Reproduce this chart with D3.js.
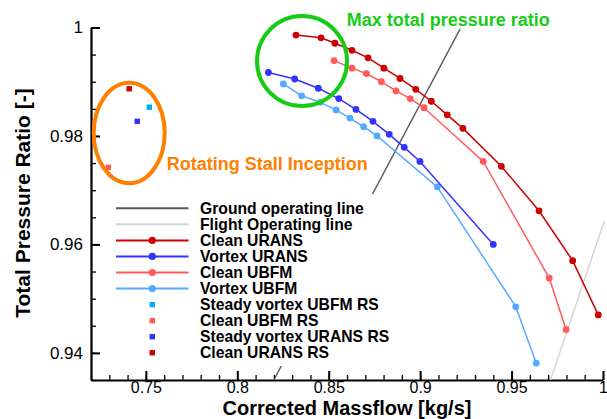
<!DOCTYPE html>
<html>
<head>
<meta charset="utf-8">
<script src="https://cdn.jsdelivr.net/npm/d3@7"></script>
<style>
  html, body { margin: 0; padding: 0; background: #fff; }
  svg { display: block; font-family: "Liberation Sans", Arial, Helvetica, sans-serif; }
</style>
</head>
<body>
<svg id="chart" width="607" height="419"></svg>
<script>
// Axis ticks
const xTickValues = [0.75, 0.8, 0.85, 0.9, 0.95, 1];
const xTickLabels = ["0.75", "0.8", "0.85", "0.9", "0.95", "1"];
const yTickValues = [0.94, 0.96, 0.98, 1];
const yTickLabels = ["0.94", "0.96", "0.98", "1"];

// Compressor characteristics: corrected massflow [kg/s] vs total pressure ratio [-]
const cleanUransMassflow = [0.8321, 0.8458, 0.8534, 0.8627, 0.8715, 0.8802, 0.8890, 0.8976, 0.9061, 0.9148, 0.9234, 0.9444, 0.9650, 0.9834, 0.9974];
const cleanUransRatio    = [0.9986, 0.9981, 0.9971, 0.9958, 0.9944, 0.9925, 0.9906, 0.9886, 0.9864, 0.9839, 0.9814, 0.9744, 0.9662, 0.9570, 0.9470];

const vortexUransMassflow = [0.8170, 0.8314, 0.8443, 0.8555, 0.8649, 0.8742, 0.8831, 0.8913, 0.8999, 0.9400];
const vortexUransRatio    = [0.9917, 0.9905, 0.9888, 0.9869, 0.9849, 0.9827, 0.9803, 0.9779, 0.9753, 0.9600];

const cleanUbfmMassflow = [0.8529, 0.8627, 0.8706, 0.8788, 0.8868, 0.8946, 0.9021, 0.9345, 0.9706, 0.9798];
const cleanUbfmRatio    = [0.9939, 0.9925, 0.9915, 0.9900, 0.9883, 0.9869, 0.9852, 0.9753, 0.9538, 0.9443];

const vortexUbfmMassflow = [0.8252, 0.8352, 0.8454, 0.8540, 0.8616, 0.8691, 0.8764, 0.9094, 0.9523, 0.9635];
const vortexUbfmRatio    = [0.9896, 0.9874, 0.9862, 0.9848, 0.9833, 0.9817, 0.9800, 0.9706, 0.9485, 0.9381];

// Rotating stall inception points
const rsNames    = ["Steady vortex UBFM RS", "Clean UBFM RS", "Steady vortex URANS RS", "Clean URANS RS"];
const rsMassflow = [0.7519, 0.7295, 0.7453, 0.7409];
const rsRatio    = [0.9853, 0.9742, 0.9827, 0.9887];

// Operating lines (end points)
const groundLineMassflow = [0.8200, 0.9218];
const groundLineRatio    = [0.9350, 0.9997];
const flightLineMassflow = [0.9713, 1.0007];
const flightLineRatio    = [0.9350, 0.9643];

// Annotation anchors
const maxRatioCenter = [0.8354, 0.9938];
const stallCenter    = [0.7409, 0.98055];

const colors = {
  ground: "#5a5a5a",
  flight: "#d4d4d4",
  cleanUrans: "#cc0000",
  vortexUrans: "#3333ff",
  cleanUbfm: "#ff5a5a",
  vortexUbfm: "#55aaff",
  vortexUbfmRS: "#00aaff",
  cleanUbfmRS: "#ff5a5a",
  vortexUransRS: "#3333ff",
  cleanUransRS: "#cc0000",
  green: "#16cc16",
  orange: "#ff8000"
};

const svg = d3.select("#chart");
const x = d3.scaleLinear().domain([0.72, 1.0]).range([91, 603]);
const y = d3.scaleLinear().domain([0.935, 1.0]).range([380, 27.5]);

// Minor ticks (inward)
const xMinor = d3.range(0.72, 1.0001, 0.01).map(v => +v.toFixed(3));
const yMinor = d3.range(0.935, 1.0001, 0.005).map(v => +v.toFixed(3));

svg.append("g").attr("transform", `translate(0,${y.range()[0]})`)
  .call(d3.axisBottom(x).tickValues(xMinor).tickSize(-5).tickFormat(""))
  .call(g => g.select(".domain").remove())
  .selectAll("line").attr("stroke", "#000").attr("stroke-width", 1.3);

svg.append("g").attr("transform", `translate(${x.range()[0]},0)`)
  .call(d3.axisLeft(y).tickValues(yMinor).tickSize(-5).tickFormat(""))
  .call(g => g.select(".domain").remove())
  .selectAll("line").attr("stroke", "#000").attr("stroke-width", 1.3);

// Major ticks with labels
const xAxis = svg.append("g").attr("transform", `translate(0,${y.range()[0]})`)
  .call(d3.axisBottom(x).tickValues(xTickValues).tickSize(-9).tickSizeOuter(0).tickPadding(1.5)
    .tickFormat((d, i) => xTickLabels[i]));
xAxis.select(".domain").attr("stroke", "#000").attr("stroke-width", 2.2);
xAxis.selectAll("line").attr("stroke", "#000").attr("stroke-width", 2);
xAxis.selectAll("text").attr("font-size", 16).attr("fill", "#000")
  .attr("font-family", "'Liberation Sans', Arial, sans-serif");

const yAxis = svg.append("g").attr("transform", `translate(${x.range()[0]},0)`)
  .call(d3.axisLeft(y).tickValues(yTickValues).tickSize(-9).tickSizeOuter(0).tickPadding(8)
    .tickFormat((d, i) => yTickLabels[i]));
yAxis.select(".domain").attr("stroke", "#000").attr("stroke-width", 2.2);
yAxis.selectAll("line").attr("stroke", "#000").attr("stroke-width", 2);
yAxis.selectAll("text").attr("font-size", 17).attr("fill", "#000")
  .attr("font-family", "'Liberation Sans', Arial, sans-serif");

// Axis titles
svg.append("text").attr("x", 347).attr("y", 414.5).attr("text-anchor", "middle")
  .attr("font-size", 20).attr("font-weight", "bold").text("Corrected Massflow [kg/s]");
svg.append("text").attr("transform", "translate(30,203) rotate(-90)").attr("text-anchor", "middle")
  .attr("font-size", 21).attr("font-weight", "bold").text("Total Pressure Ratio [-]");

const line = d3.line().x(d => x(d[0])).y(d => y(d[1]));
const zip = (a, b) => a.map((v, i) => [v, b[i]]);

// Operating lines
svg.append("path").datum(zip(groundLineMassflow, groundLineRatio)).attr("d", line)
  .attr("fill", "none").attr("stroke", colors.ground).attr("stroke-width", 1.4);
svg.append("path").datum(zip(flightLineMassflow, flightLineRatio)).attr("d", line)
  .attr("fill", "none").attr("stroke", colors.flight).attr("stroke-width", 1.4);

// Speed lines
const series = [
  { name: "Clean URANS", color: colors.cleanUrans, data: zip(cleanUransMassflow, cleanUransRatio) },
  { name: "Vortex URANS", color: colors.vortexUrans, data: zip(vortexUransMassflow, vortexUransRatio) },
  { name: "Clean UBFM", color: colors.cleanUbfm, data: zip(cleanUbfmMassflow, cleanUbfmRatio) },
  { name: "Vortex UBFM", color: colors.vortexUbfm, data: zip(vortexUbfmMassflow, vortexUbfmRatio) }
];
const drawOrder = [3, 2, 1, 0];
drawOrder.forEach(k => {
  const s = series[k];
  const g = svg.append("g");
  g.append("path").datum(s.data).attr("d", line).attr("fill", "none")
    .attr("stroke", s.color).attr("stroke-width", 1.5);
  g.selectAll("circle").data(s.data).join("circle")
    .attr("cx", d => x(d[0])).attr("cy", d => y(d[1])).attr("r", 3.4).attr("fill", s.color);
});

// Rotating stall points
const rsColors = [colors.vortexUbfmRS, colors.cleanUbfmRS, colors.vortexUransRS, colors.cleanUransRS];
svg.append("g").selectAll("rect").data(rsMassflow.map((m, i) => [m, rsRatio[i], rsColors[i]])).join("rect")
  .attr("x", d => x(d[0]) - 2.7).attr("y", d => y(d[1]) - 2.7)
  .attr("width", 5.4).attr("height", 5.4).attr("fill", d => d[2]);

// Legend (white backing hides the operating line behind it)
svg.append("rect").attr("x", 110).attr("y", 194).attr("width", 292).attr("height", 172).attr("fill", "#fff");
const legendItems = [
  { label: "Ground operating line", color: colors.ground, type: "line", width: 2 },
  { label: "Flight Operating line", color: colors.flight, type: "line", width: 2 },
  { label: "Clean URANS", color: colors.cleanUrans, type: "linedot", width: 2 },
  { label: "Vortex URANS", color: colors.vortexUrans, type: "linedot", width: 2 },
  { label: "Clean UBFM", color: colors.cleanUbfm, type: "linedot", width: 2 },
  { label: "Vortex UBFM", color: colors.vortexUbfm, type: "linedot", width: 2 },
  { label: rsNames[0], color: colors.vortexUbfmRS, type: "square" },
  { label: rsNames[1], color: colors.cleanUbfmRS, type: "square" },
  { label: rsNames[2], color: colors.vortexUransRS, type: "square" },
  { label: rsNames[3], color: colors.cleanUransRS, type: "square" }
];
const legend = svg.append("g");
legendItems.forEach((it, i) => {
  const cy = 208.3 + i * 16.05;
  if (it.type !== "square") {
    legend.append("line").attr("x1", 116).attr("x2", 188.5).attr("y1", cy).attr("y2", cy)
      .attr("stroke", it.color).attr("stroke-width", it.width);
  }
  if (it.type === "linedot") {
    legend.append("circle").attr("cx", 152.3).attr("cy", cy).attr("r", 3.6).attr("fill", it.color);
  }
  if (it.type === "square") {
    legend.append("rect").attr("x", 152.3 - 2.7).attr("y", cy - 2.7).attr("width", 5.4).attr("height", 5.4)
      .attr("fill", it.color);
  }
  legend.append("text").attr("x", 200).attr("y", cy + 5.6).attr("font-size", 15.7)
    .attr("font-weight", "bold").attr("fill", "#000").text(it.label);
});

// Annotations
svg.append("circle").attr("cx", x(maxRatioCenter[0])).attr("cy", y(maxRatioCenter[1])).attr("r", 45)
  .attr("fill", "none").attr("stroke", colors.green).attr("stroke-width", 4);
svg.append("text").attr("x", 346.7).attr("y", 25.5).attr("font-size", 18).attr("font-weight", "bold")
  .attr("fill", colors.green).text("Max total pressure ratio");

svg.append("ellipse").attr("cx", x(stallCenter[0])).attr("cy", y(stallCenter[1])).attr("rx", 35.5).attr("ry", 50.2)
  .attr("fill", "none").attr("stroke", colors.orange).attr("stroke-width", 4);
svg.append("text").attr("x", 166.7).attr("y", 170).attr("font-size", 18).attr("font-weight", "bold")
  .attr("fill", colors.orange).text("Rotating Stall Inception");
</script>
</body>
</html>
